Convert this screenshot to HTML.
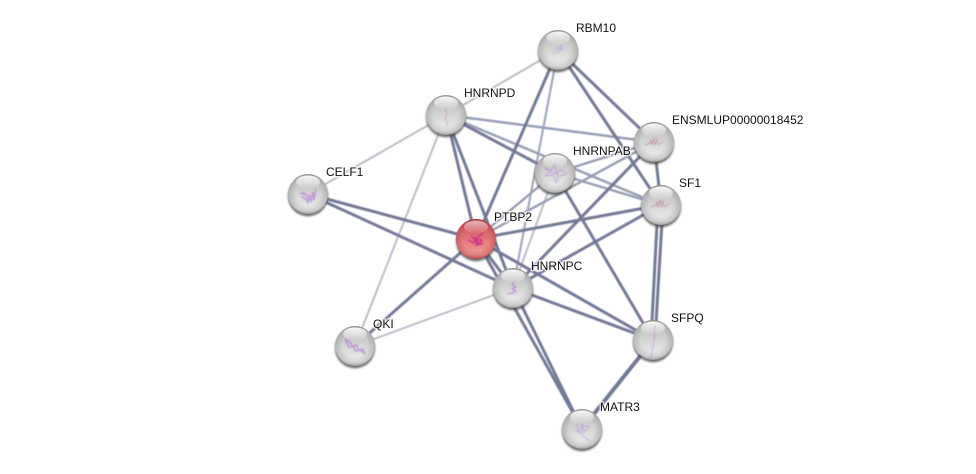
<!DOCTYPE html>
<html>
<head>
<meta charset="utf-8">
<style>
html,body{margin:0;padding:0;background:#fff;width:976px;height:474px;overflow:hidden}
svg{display:block}
text{font-family:"Liberation Sans",sans-serif;font-size:12px;fill:#111;paint-order:stroke;stroke:#fff;stroke-width:3px;stroke-opacity:.7;stroke-linejoin:round}
.d{stroke:#737a95;stroke-width:3;fill:none}
.m{stroke:#969db3;stroke-width:2.4;fill:none}
.l{stroke:#b8bac8;stroke-width:1.9;fill:none}
.pg{fill:none;stroke:#b880d8;stroke-width:.7;stroke-linejoin:round}
</style>
</head>
<body>
<svg width="976" height="474" viewBox="0 0 976 474" xmlns="http://www.w3.org/2000/svg">
<defs>
<filter id="b" x="-10%" y="-10%" width="120%" height="120%"><feGaussianBlur stdDeviation="0.4"/></filter>
<filter id="b2" x="-30%" y="-30%" width="160%" height="160%"><feGaussianBlur stdDeviation="1"/></filter>
<linearGradient id="g" x1="0" y1="0" x2="0" y2="1">
<stop offset="0" stop-color="#a0a0a0"/><stop offset=".12" stop-color="#bcbcbc"/><stop offset=".5" stop-color="#d4d4d4"/><stop offset=".88" stop-color="#eeeeee"/><stop offset="1" stop-color="#dcdcdc"/>
</linearGradient>
<linearGradient id="r" x1="0" y1="0" x2="0" y2="1">
<stop offset="0" stop-color="#a02630"/><stop offset=".12" stop-color="#cc5358"/><stop offset=".5" stop-color="#e27678"/><stop offset=".88" stop-color="#f39896"/><stop offset="1" stop-color="#e07878"/>
</linearGradient>
<radialGradient id="rim" cx="50%" cy="46%" r="56%">
<stop offset=".55" stop-color="#555" stop-opacity="0"/><stop offset=".88" stop-color="#555" stop-opacity=".24"/><stop offset="1" stop-color="#444" stop-opacity=".6"/>
</radialGradient>
<radialGradient id="rimr" cx="50%" cy="46%" r="56%">
<stop offset=".6" stop-color="#8a2028" stop-opacity="0"/><stop offset=".88" stop-color="#8a2028" stop-opacity=".28"/><stop offset="1" stop-color="#8a2028" stop-opacity=".65"/>
</radialGradient>
<linearGradient id="h" x1="0" y1="0" x2="0" y2="1">
<stop offset="0" stop-color="#fff" stop-opacity=".95"/><stop offset="1" stop-color="#fff" stop-opacity=".05"/>
</linearGradient>
<g id="ball"><circle cx="0" cy="2.2" r="20" fill="#444" opacity=".8" filter="url(#b2)"/><circle r="20" fill="url(#g)"/><circle r="20" fill="url(#rim)"/><ellipse cx="0" cy="-12" rx="12" ry="6.5" fill="url(#h)"/></g>
<g id="ballr"><circle cx="0" cy="2.2" r="20" fill="#444" opacity=".8" filter="url(#b2)"/><circle r="20" fill="url(#r)"/><circle r="20" fill="url(#rimr)"/><ellipse cx="0" cy="-12" rx="12" ry="6.5" fill="url(#h)" opacity=".65"/></g>
</defs>

<g filter="url(#b)">
<g class="l">
<line x1="558" y1="50" x2="446" y2="115"/>
<line x1="446" y1="115" x2="308" y2="194"/>
<line x1="446" y1="115" x2="355" y2="346"/>
<line x1="555" y1="173" x2="513" y2="288"/>
<line x1="513" y1="288" x2="355" y2="346"/>
</g>
<g class="m">
<line x1="558" y1="50" x2="513" y2="288" style="stroke:#a2a9be;stroke-width:2.2"/>
<line x1="446" y1="115" x2="654" y2="142"/>
<line x1="446" y1="115" x2="661" y2="205"/>
<line x1="654" y1="142" x2="555" y2="173"/>
<line x1="555" y1="173" x2="661" y2="205"/>
<line x1="654" y1="142" x2="476" y2="239"/>
<line x1="555" y1="173" x2="476" y2="239"/>
</g>
<g class="d">
<line x1="558" y1="50" x2="476" y2="239"/>
<line x1="558" y1="50" x2="654" y2="142"/>
<line x1="558" y1="50" x2="661" y2="205"/>
<line x1="446" y1="115" x2="476" y2="239"/>
<line x1="446" y1="115" x2="513" y2="288"/>
<line x1="446" y1="115" x2="555" y2="173"/>
<line x1="654" y1="142" x2="661" y2="205"/>
<line x1="654" y1="142" x2="513" y2="288"/>
<line x1="555" y1="173" x2="653" y2="340"/>
<line x1="661" y1="205" x2="476" y2="239"/>
<line x1="661" y1="205" x2="513" y2="288"/>
<line x1="658" y1="205" x2="651" y2="340"/>
<line x1="663" y1="205" x2="655" y2="340"/>
<line x1="308" y1="194" x2="476" y2="239"/>
<line x1="308" y1="194" x2="513" y2="288"/>
<line x1="476" y1="239" x2="355" y2="346"/>
<line x1="476" y1="239" x2="513" y2="288"/>
<line x1="476" y1="239" x2="653" y2="340"/>
<line x1="476" y1="239" x2="582" y2="429"/>
<line x1="513" y1="288" x2="653" y2="340"/>
<line x1="513" y1="288" x2="582" y2="429"/>
<line x1="653" y1="340" x2="582" y2="429" style="stroke-width:4"/>
</g>
</g>

<use href="#ball" x="558" y="50"/>
<use href="#ball" x="446" y="115"/>
<use href="#ball" x="654" y="142"/>
<use href="#ball" x="555" y="173"/>
<use href="#ball" x="661" y="205"/>
<use href="#ball" x="308" y="194"/>
<use href="#ballr" x="476" y="239"/>
<use href="#ball" x="513" y="288"/>
<use href="#ball" x="355" y="346"/>
<use href="#ball" x="653" y="340"/>
<use href="#ball" x="582" y="429"/>

<g class="pg" filter="url(#b)">
<path d="M553 54l5-4-2-2 6-3-3 4 4-1-5 5" opacity=".55"/>
<path d="M445 109l2 5-2 4 3 5-2 3" opacity=".6" stroke="#b08090"/>
<path d="M645 145l5-2 1-3 1 5 2-7 1 7 2-6 1 6 5-3" opacity=".7" stroke="#c07090"/>
<path d="M543 167l8 3 4-6 1 9 6-3 5 4-7 2-4 7-3-8-8 1 5-5-5-2M550 172l8 2-2 5" opacity=".7"/>
<path d="M651 207l5-2 1-3 1 5 2-7 1 7 2-6 1 6 5-3" opacity=".75" stroke="#c07090"/>
<path d="M300 193l7 2 1 8 2-8 1 7 2-10 1 8 2-11M302 196l5 5M303 192l4 4" stroke-width="1.5" opacity=".7"/>
<path d="M468 240l6 3 2-6 2 8 3-6 1 5-6 1 3-9 4-3M471 236l5 5 3 3" stroke="#c02090" stroke-width="1.3" opacity=".8"/>
<path d="M514 282l-2 3 4 2-4 2 4 2-4 2-5 1" stroke-width="1.4" opacity=".75"/>
<path d="M345 339l5 3 2 4 5-1 1 5 5-1 2 5-5-4-5 1-1-4-5 0z" stroke-width="1.4" opacity=".75"/>
<path d="M655 325l-1 12-1 10-2 10M654 338l3-1" opacity=".65"/>
<path d="M577 423l1 9 5-6 1 6 5-5-8-2 1 8 3 5 4 2M575 430l6 3" opacity=".65"/>
</g>

<text x="576" y="32">RBM10</text>
<text x="464" y="97">HNRNPD</text>
<text x="672" y="124">ENSMLUP00000018452</text>
<text x="573" y="155">HNRNPAB</text>
<text x="679" y="187">SF1</text>
<text x="326" y="176">CELF1</text>
<text x="494" y="221">PTBP2</text>
<text x="531" y="270">HNRNPC</text>
<text x="373" y="328">QKI</text>
<text x="671" y="322">SFPQ</text>
<text x="600" y="411">MATR3</text>
</svg>
</body>
</html>
